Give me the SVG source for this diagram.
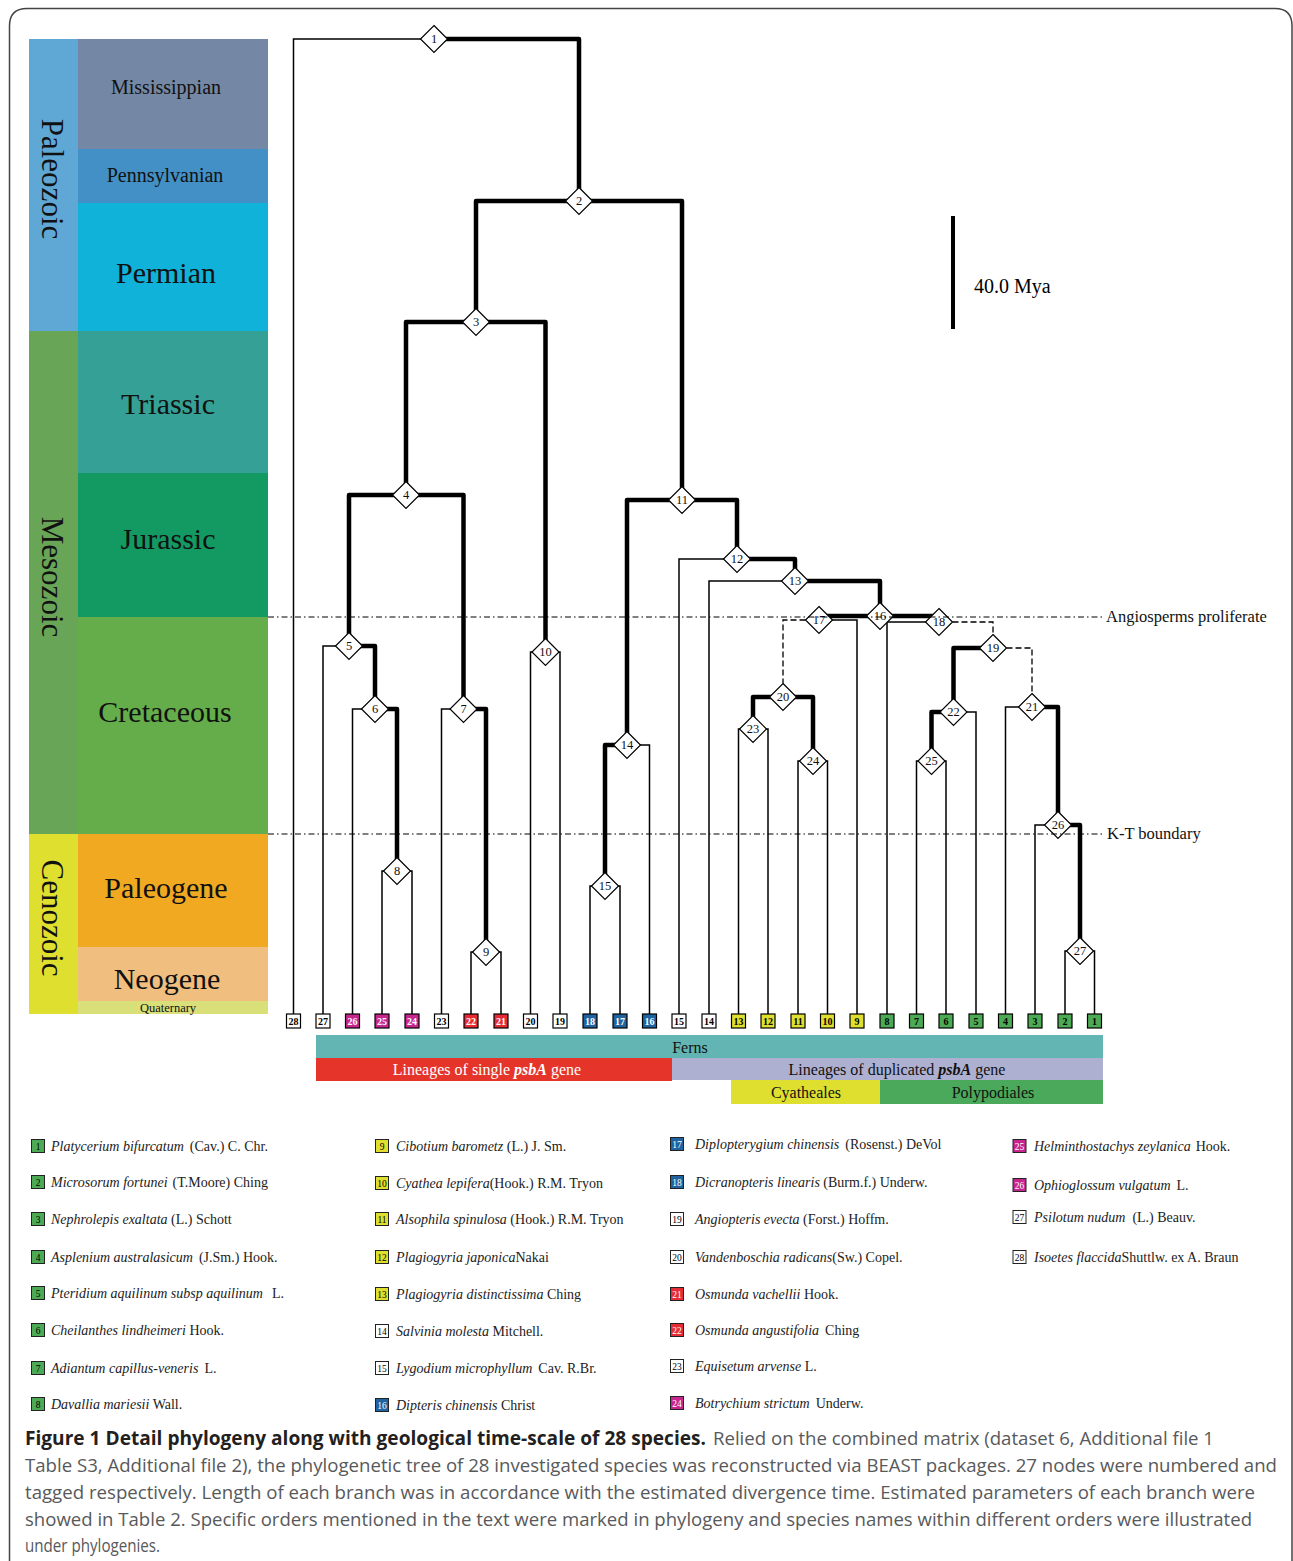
<svg xmlns="http://www.w3.org/2000/svg" xmlns:xlink="http://www.w3.org/1999/xlink" width="1293" height="1561" viewBox="0 0 1293 1561">
<style>
.sf{font-family:"Liberation Serif","Times New Roman",serif}
.thk{fill:none;stroke:#000;stroke-width:4.5;stroke-linejoin:round}
.thn{fill:none;stroke:#000;stroke-width:1.5}
.dsh{fill:none;stroke:#000;stroke-width:1.3;stroke-dasharray:6 3}
.ref{fill:none;stroke:#000;stroke-width:1;stroke-dasharray:6 3 1.5 3}
.dia{fill:#fff;stroke:#000;stroke-width:1.2}
.nt{font-family:"Liberation Serif",serif;font-size:12.5px;text-anchor:middle;fill:#111}
.lb{stroke:#000;stroke-width:1.2}
.lt{font-family:"Liberation Serif",serif;font-size:10px;font-weight:bold;text-anchor:middle}
.per{font-family:"Liberation Serif",serif;font-size:30px;text-anchor:middle;fill:#111}
.era{font-family:"Liberation Serif",serif;font-size:31px;text-anchor:middle;fill:#111}
.bar{font-family:"Liberation Serif",serif;font-size:16px;text-anchor:middle}
.lg{font-family:"Liberation Serif",serif;font-size:14px;fill:#222}
.lgn{font-family:"Liberation Serif",serif;font-size:9.5px;text-anchor:middle}
.gbox{stroke:#222;stroke-width:1}
.cap{font-family:"Liberation Sans Narrow","Open Sans","Liberation Sans",sans-serif;font-size:18px;fill:#58595b}
.capb{font-family:"Liberation Sans Narrow","Open Sans","Liberation Sans",sans-serif;font-size:19px;font-weight:bold;fill:#231f20}
.w{fill:#fff}.g{fill:#4caa55}.y{fill:#dfdf2f}.b{fill:#1f64a0}.r{fill:#e62b34}.m{fill:#c8268f}
</style>
<defs>
<path id="dm" class="dia" d="M0,-13.5 L13.5,0 L0,13.5 L-13.5,0Z"/>
</defs>
<rect width="1293" height="1561" fill="#fff"/>
<path d="M9.5,1561 V26 Q9.5,8.5 27,8.5 H1275 Q1292,8.5 1292,26 V1561" fill="none" stroke="#444" stroke-width="1.5"/>

<g id="timescale">
<rect x="29" y="39" width="49" height="292" fill="#5fa8d6"/>
<rect x="29" y="331" width="49" height="503" fill="#68a556"/>
<rect x="29" y="834" width="49" height="180" fill="#dfdf2f"/>
<rect x="78" y="39" width="190" height="110" fill="#7488a6"/>
<rect x="78" y="149" width="190" height="54" fill="#4290c5"/>
<rect x="78" y="203" width="190" height="128" fill="#10b2d9"/>
<rect x="78" y="331" width="190" height="142" fill="#35a096"/>
<rect x="78" y="473" width="190" height="144" fill="#139a62"/>
<rect x="78" y="617" width="190" height="217" fill="#64ad4a"/>
<rect x="78" y="834" width="190" height="113" fill="#f2a922"/>
<rect x="78" y="947" width="190" height="54" fill="#f0bf80"/>
<rect x="78" y="1001" width="190" height="13" fill="#d9e07a"/>
<text class="era" transform="translate(42,179) rotate(90)">Paleozoic</text>
<text class="era" transform="translate(42,577) rotate(90)">Mesozoic</text>
<text class="era" transform="translate(42,918) rotate(90)">Cenozoic</text>
<text class="sf" x="166" y="94" font-size="20" text-anchor="middle" fill="#111">Mississippian</text>
<text class="sf" x="165" y="182" font-size="20" text-anchor="middle" fill="#111">Pennsylvanian</text>
<text class="per" x="166" y="283">Permian</text>
<text class="per" x="168" y="414">Triassic</text>
<text class="per" x="168" y="549">Jurassic</text>
<text class="per" x="165" y="722">Cretaceous</text>
<text class="per" x="166" y="898">Paleogene</text>
<text class="per" x="167" y="989">Neogene</text>
<text class="sf" x="168" y="1012" font-size="12.5" text-anchor="middle" fill="#111">Quaternary</text>
</g>

<g id="scale-bar">
<line x1="953" y1="216" x2="953" y2="329" stroke="#000" stroke-width="4"/>
<text class="sf" x="974" y="293" font-size="20">40.0 Mya</text>
</g>

<g id="connectors">
<path class="thn" d="M434,39 H293.5 V1014"/>
<path class="thn" d="M349,646 H323 V1014"/>
<path class="thn" d="M375,709 H352.5 V1014"/>
<path class="thn" d="M397,871 H382 V1014 M397,871 H412 V1014"/>
<path class="thn" d="M463.5,709 H441.5 V1014"/>
<path class="thn" d="M486,952 H471 V1014 M486,952 H501 V1014"/>
<path class="thn" d="M545.5,652 H530.5 V1014 M545.5,652 H560 V1014"/>
<path class="thn" d="M627,745 H649.5 V1014"/>
<path class="thn" d="M605,886 H590 V1014 M605,886 H620 V1014"/>
<path class="thn" d="M737,559 H679 V1014"/>
<path class="thn" d="M795,581 H709 V1014"/>
<path class="thn" d="M753,729 H738.5 V1014 M753,729 H768 V1014"/>
<path class="thn" d="M813,761 H798 V1014 M813,761 H827.5 V1014"/>
<path class="thn" d="M819,620 H857 V1014"/>
<path class="thn" d="M939,622 H887 V1014"/>
<path class="thn" d="M931.5,761 H916.5 V1014 M931.5,761 H946 V1014"/>
<path class="thn" d="M953.5,712 H976 V1014"/>
<path class="thn" d="M1032,707 H1005.5 V1014"/>
<path class="thn" d="M1058,825 H1035 V1014"/>
<path class="thn" d="M1080,951 H1065 V1014 M1080,951 H1094.5 V1014"/>
<path class="thk" d="M434,39 H579 V201"/>
<path class="thk" d="M579,201 H476 V322"/>
<path class="thk" d="M579,201 H682 V500"/>
<path class="thk" d="M476,322 H406 V495"/>
<path class="thk" d="M476,322 H545.5 V652"/>
<path class="thk" d="M406,495 H349 V646"/>
<path class="thk" d="M406,495 H463.5 V709"/>
<path class="thk" d="M349,646 H375 V709"/>
<path class="thk" d="M375,709 H397 V871"/>
<path class="thk" d="M463.5,709 H486 V952"/>
<path class="thk" d="M682,500 H627 V745"/>
<path class="thk" d="M682,500 H737 V559"/>
<path class="thk" d="M627,745 H605 V886"/>
<path class="thk" d="M737,559 H795 V581"/>
<path class="thk" d="M795,581 H880 V616"/>
<path class="thk" d="M880,616 H819 V620"/>
<path class="thk" d="M880,616 H939 V622"/>
<path class="thk" d="M783,697 H753 V729"/>
<path class="thk" d="M783,697 H813 V761"/>
<path class="thk" d="M993,648 H953.5 V712"/>
<path class="thk" d="M953.5,712 H931.5 V761"/>
<path class="thk" d="M1032,707 H1058 V825"/>
<path class="thk" d="M1058,825 H1080 V951"/>
<path class="dsh" d="M805.5,620 H783 V683.5"/>
<path class="dsh" d="M952.5,622 H993 V634.5"/>
<path class="dsh" d="M1006.5,648 H1032 V693.5"/>
</g>

<g id="nodes">
<g id="node-1"><use xlink:href="#dm" x="434" y="39"/><text class="nt" x="434" y="43">1</text></g>
<g id="node-2"><use xlink:href="#dm" x="579" y="201"/><text class="nt" x="579" y="205">2</text></g>
<g id="node-3"><use xlink:href="#dm" x="476" y="322"/><text class="nt" x="476" y="326">3</text></g>
<g id="node-4"><use xlink:href="#dm" x="406" y="495"/><text class="nt" x="406" y="499">4</text></g>
<g id="node-5"><use xlink:href="#dm" x="349" y="646"/><text class="nt" x="349" y="650">5</text></g>
<g id="node-6"><use xlink:href="#dm" x="375" y="709"/><text class="nt" x="375" y="713">6</text></g>
<g id="node-7"><use xlink:href="#dm" x="463.5" y="709"/><text class="nt" x="463.5" y="713">7</text></g>
<g id="node-8"><use xlink:href="#dm" x="397" y="871"/><text class="nt" x="397" y="875">8</text></g>
<g id="node-9"><use xlink:href="#dm" x="486" y="952"/><text class="nt" x="486" y="956">9</text></g>
<g id="node-10"><use xlink:href="#dm" x="545.5" y="652"/><text class="nt" x="545.5" y="656">10</text></g>
<g id="node-11"><use xlink:href="#dm" x="682" y="500"/><text class="nt" x="682" y="504">11</text></g>
<g id="node-12"><use xlink:href="#dm" x="737" y="559"/><text class="nt" x="737" y="563">12</text></g>
<g id="node-13"><use xlink:href="#dm" x="795" y="581"/><text class="nt" x="795" y="585">13</text></g>
<g id="node-14"><use xlink:href="#dm" x="627" y="745"/><text class="nt" x="627" y="749">14</text></g>
<g id="node-15"><use xlink:href="#dm" x="605" y="886"/><text class="nt" x="605" y="890">15</text></g>
<g id="node-16"><use xlink:href="#dm" x="880" y="616"/><text class="nt" x="880" y="620">16</text></g>
<g id="node-17"><use xlink:href="#dm" x="819" y="620"/><text class="nt" x="819" y="624">17</text></g>
<g id="node-18"><use xlink:href="#dm" x="939" y="622"/><text class="nt" x="939" y="626">18</text></g>
<g id="node-19"><use xlink:href="#dm" x="993" y="648"/><text class="nt" x="993" y="652">19</text></g>
<g id="node-20"><use xlink:href="#dm" x="783" y="697"/><text class="nt" x="783" y="701">20</text></g>
<g id="node-21"><use xlink:href="#dm" x="1032" y="707"/><text class="nt" x="1032" y="711">21</text></g>
<g id="node-22"><use xlink:href="#dm" x="953.5" y="712"/><text class="nt" x="953.5" y="716">22</text></g>
<g id="node-23"><use xlink:href="#dm" x="753" y="729"/><text class="nt" x="753" y="733">23</text></g>
<g id="node-24"><use xlink:href="#dm" x="813" y="761"/><text class="nt" x="813" y="765">24</text></g>
<g id="node-25"><use xlink:href="#dm" x="931.5" y="761"/><text class="nt" x="931.5" y="765">25</text></g>
<g id="node-26"><use xlink:href="#dm" x="1058" y="825"/><text class="nt" x="1058" y="829">26</text></g>
<g id="node-27"><use xlink:href="#dm" x="1080" y="951"/><text class="nt" x="1080" y="955">27</text></g>
</g>

<g id="reference-lines">
<line class="ref" x1="268" y1="617" x2="1104" y2="617"/>
<line class="ref" x1="268" y1="834" x2="1104" y2="834"/>
<text class="sf" x="1106" y="622" font-size="16.5" fill="#111">Angiosperms proliferate</text>
<text class="sf" x="1107" y="839" font-size="16.5" fill="#111">K-T boundary</text>
</g>

<g id="leaves">
<g id="leaf-28"><rect class="lb w" x="286.5" y="1014" width="14" height="14"/><text class="lt" x="293.5" y="1025">28</text></g>
<g id="leaf-27"><rect class="lb w" x="316" y="1014" width="14" height="14"/><text class="lt" x="323" y="1025">27</text></g>
<g id="leaf-26"><rect class="lb m" x="345.5" y="1014" width="14" height="14"/><text class="lt" x="352.5" y="1025" fill="#fff">26</text></g>
<g id="leaf-25"><rect class="lb m" x="375" y="1014" width="14" height="14"/><text class="lt" x="382" y="1025" fill="#fff">25</text></g>
<g id="leaf-24"><rect class="lb m" x="405" y="1014" width="14" height="14"/><text class="lt" x="412" y="1025" fill="#fff">24</text></g>
<g id="leaf-23"><rect class="lb w" x="434.5" y="1014" width="14" height="14"/><text class="lt" x="441.5" y="1025">23</text></g>
<g id="leaf-22"><rect class="lb r" x="464" y="1014" width="14" height="14"/><text class="lt" x="471" y="1025" fill="#fff">22</text></g>
<g id="leaf-21"><rect class="lb r" x="494" y="1014" width="14" height="14"/><text class="lt" x="501" y="1025" fill="#fff">21</text></g>
<g id="leaf-20"><rect class="lb w" x="523.5" y="1014" width="14" height="14"/><text class="lt" x="530.5" y="1025">20</text></g>
<g id="leaf-19"><rect class="lb w" x="553" y="1014" width="14" height="14"/><text class="lt" x="560" y="1025">19</text></g>
<g id="leaf-18"><rect class="lb b" x="583" y="1014" width="14" height="14"/><text class="lt" x="590" y="1025" fill="#fff">18</text></g>
<g id="leaf-17"><rect class="lb b" x="613" y="1014" width="14" height="14"/><text class="lt" x="620" y="1025" fill="#fff">17</text></g>
<g id="leaf-16"><rect class="lb b" x="642.5" y="1014" width="14" height="14"/><text class="lt" x="649.5" y="1025" fill="#fff">16</text></g>
<g id="leaf-15"><rect class="lb w" x="672" y="1014" width="14" height="14"/><text class="lt" x="679" y="1025">15</text></g>
<g id="leaf-14"><rect class="lb w" x="702" y="1014" width="14" height="14"/><text class="lt" x="709" y="1025">14</text></g>
<g id="leaf-13"><rect class="lb y" x="731.5" y="1014" width="14" height="14"/><text class="lt" x="738.5" y="1025">13</text></g>
<g id="leaf-12"><rect class="lb y" x="761" y="1014" width="14" height="14"/><text class="lt" x="768" y="1025">12</text></g>
<g id="leaf-11"><rect class="lb y" x="791" y="1014" width="14" height="14"/><text class="lt" x="798" y="1025">11</text></g>
<g id="leaf-10"><rect class="lb y" x="820.5" y="1014" width="14" height="14"/><text class="lt" x="827.5" y="1025">10</text></g>
<g id="leaf-9"><rect class="lb y" x="850" y="1014" width="14" height="14"/><text class="lt" x="857" y="1025">9</text></g>
<g id="leaf-8"><rect class="lb g" x="880" y="1014" width="14" height="14"/><text class="lt" x="887" y="1025">8</text></g>
<g id="leaf-7"><rect class="lb g" x="909.5" y="1014" width="14" height="14"/><text class="lt" x="916.5" y="1025">7</text></g>
<g id="leaf-6"><rect class="lb g" x="939" y="1014" width="14" height="14"/><text class="lt" x="946" y="1025">6</text></g>
<g id="leaf-5"><rect class="lb g" x="969" y="1014" width="14" height="14"/><text class="lt" x="976" y="1025">5</text></g>
<g id="leaf-4"><rect class="lb g" x="998.5" y="1014" width="14" height="14"/><text class="lt" x="1005.5" y="1025">4</text></g>
<g id="leaf-3"><rect class="lb g" x="1028" y="1014" width="14" height="14"/><text class="lt" x="1035" y="1025">3</text></g>
<g id="leaf-2"><rect class="lb g" x="1058" y="1014" width="14" height="14"/><text class="lt" x="1065" y="1025">2</text></g>
<g id="leaf-1"><rect class="lb g" x="1087.5" y="1014" width="14" height="14"/><text class="lt" x="1094.5" y="1025">1</text></g>
</g>

<g id="group-bars">
<rect x="316" y="1035" width="787" height="23" fill="#62b5b3"/>
<text class="bar" x="690" y="1053" fill="#111">Ferns</text>
<rect x="316" y="1058" width="356" height="23" fill="#e5352a"/>
<text class="bar" x="487" y="1075" fill="#fff">Lineages of single <tspan font-weight="bold" font-style="italic">psbA</tspan> gene</text>
<rect x="672" y="1058" width="431" height="22" fill="#adb0d0"/>
<text class="bar" x="897" y="1075" fill="#111">Lineages of duplicated <tspan font-weight="bold" font-style="italic">psbA</tspan> gene</text>
<rect x="731" y="1080" width="149" height="24" fill="#dfdf2f"/>
<text class="bar" x="806" y="1098" fill="#111">Cyatheales</text>
<rect x="880" y="1080" width="223" height="24" fill="#4aa95a"/>
<text class="bar" x="993" y="1098" fill="#111">Polypodiales</text>
</g>

<g id="legend">
<g id="lg-1"><rect class="gbox g" x="31.5" y="1139.5" width="13" height="13"/><text class="lgn" x="38" y="1149.5">1</text><text class="lg" x="51" y="1151"><tspan font-style="italic">Platycerium bifurcatum</tspan><tspan dx="6">(Cav.) C. Chr.</tspan></text></g>
<g id="lg-2"><rect class="gbox g" x="31.5" y="1175.5" width="13" height="13"/><text class="lgn" x="38" y="1185.5">2</text><text class="lg" x="51" y="1187"><tspan font-style="italic">Microsorum fortunei</tspan><tspan dx="5">(T.Moore) Ching</tspan></text></g>
<g id="lg-3"><rect class="gbox g" x="31.5" y="1212.5" width="13" height="13"/><text class="lgn" x="38" y="1222.5">3</text><text class="lg" x="51" y="1224"><tspan font-style="italic">Nephrolepis exaltata</tspan> (L.) Schott</text></g>
<g id="lg-4"><rect class="gbox g" x="31.5" y="1250.5" width="13" height="13"/><text class="lgn" x="38" y="1260.5">4</text><text class="lg" x="51" y="1262"><tspan font-style="italic">Asplenium australasicum</tspan><tspan dx="6">(J.Sm.) Hook.</tspan></text></g>
<g id="lg-5"><rect class="gbox g" x="31.5" y="1286.5" width="13" height="13"/><text class="lgn" x="38" y="1296.5">5</text><text class="lg" x="51" y="1298"><tspan font-style="italic">Pteridium aquilinum subsp aquilinum</tspan><tspan dx="9">L.</tspan></text></g>
<g id="lg-6"><rect class="gbox g" x="31.5" y="1323.5" width="13" height="13"/><text class="lgn" x="38" y="1333.5">6</text><text class="lg" x="51" y="1335"><tspan font-style="italic">Cheilanthes lindheimeri</tspan> Hook.</text></g>
<g id="lg-7"><rect class="gbox g" x="31.5" y="1361.5" width="13" height="13"/><text class="lgn" x="38" y="1371.5">7</text><text class="lg" x="51" y="1373"><tspan font-style="italic">Adiantum capillus-veneris</tspan><tspan dx="6">L.</tspan></text></g>
<g id="lg-8"><rect class="gbox g" x="31.5" y="1397.5" width="13" height="13"/><text class="lgn" x="38" y="1407.5">8</text><text class="lg" x="51" y="1409"><tspan font-style="italic">Davallia mariesii</tspan> Wall.</text></g>

<g id="lg-9"><rect class="gbox y" x="375.5" y="1139.5" width="13" height="13"/><text class="lgn" x="382" y="1149.5">9</text><text class="lg" x="396" y="1151"><tspan font-style="italic">Cibotium barometz</tspan> (L.) J. Sm.</text></g>
<g id="lg-10"><rect class="gbox y" x="375.5" y="1176.5" width="13" height="13"/><text class="lgn" x="382" y="1186.5">10</text><text class="lg" x="396" y="1188"><tspan font-style="italic">Cyathea lepifera</tspan>(Hook.) R.M. Tryon</text></g>
<g id="lg-11"><rect class="gbox y" x="375.5" y="1212.5" width="13" height="13"/><text class="lgn" x="382" y="1222.5">11</text><text class="lg" x="396" y="1224"><tspan font-style="italic">Alsophila spinulosa</tspan> (Hook.) R.M. Tryon</text></g>
<g id="lg-12"><rect class="gbox y" x="375.5" y="1250.5" width="13" height="13"/><text class="lgn" x="382" y="1260.5">12</text><text class="lg" x="396" y="1262"><tspan font-style="italic">Plagiogyria japonica</tspan>Nakai</text></g>
<g id="lg-13"><rect class="gbox y" x="375.5" y="1287.5" width="13" height="13"/><text class="lgn" x="382" y="1297.5">13</text><text class="lg" x="396" y="1299"><tspan font-style="italic">Plagiogyria distinctissima</tspan> Ching</text></g>
<g id="lg-14"><rect class="gbox w" x="375.5" y="1324.5" width="13" height="13"/><text class="lgn" x="382" y="1334.5">14</text><text class="lg" x="396" y="1336"><tspan font-style="italic">Salvinia molesta</tspan> Mitchell.</text></g>
<g id="lg-15"><rect class="gbox w" x="375.5" y="1361.5" width="13" height="13"/><text class="lgn" x="382" y="1371.5">15</text><text class="lg" x="396" y="1373"><tspan font-style="italic">Lygodium microphyllum</tspan><tspan dx="6">Cav. R.Br.</tspan></text></g>
<g id="lg-16"><rect class="gbox b" x="375.5" y="1398.5" width="13" height="13"/><text class="lgn" x="382" y="1408.5" fill="#fff">16</text><text class="lg" x="396" y="1410"><tspan font-style="italic">Dipteris chinensis</tspan> Christ</text></g>

<g id="lg-17"><rect class="gbox b" x="670.5" y="1137.5" width="13" height="13"/><text class="lgn" x="677" y="1147.5" fill="#fff">17</text><text class="lg" x="695" y="1149"><tspan font-style="italic">Diplopterygium chinensis</tspan><tspan dx="6">(Rosenst.) DeVol</tspan></text></g>
<g id="lg-18"><rect class="gbox b" x="670.5" y="1175.5" width="13" height="13"/><text class="lgn" x="677" y="1185.5" fill="#fff">18</text><text class="lg" x="695" y="1187"><tspan font-style="italic">Dicranopteris linearis</tspan> (Burm.f.) Underw.</text></g>
<g id="lg-19"><rect class="gbox w" x="670.5" y="1212.5" width="13" height="13"/><text class="lgn" x="677" y="1222.5">19</text><text class="lg" x="695" y="1224"><tspan font-style="italic">Angiopteris evecta</tspan> (Forst.) Hoffm.</text></g>
<g id="lg-20"><rect class="gbox w" x="670.5" y="1250.5" width="13" height="13"/><text class="lgn" x="677" y="1260.5">20</text><text class="lg" x="695" y="1262"><tspan font-style="italic">Vandenboschia radicans</tspan>(Sw.) Copel.</text></g>
<g id="lg-21"><rect class="gbox r" x="670.5" y="1287.5" width="13" height="13"/><text class="lgn" x="677" y="1297.5" fill="#fff">21</text><text class="lg" x="695" y="1299"><tspan font-style="italic">Osmunda vachellii</tspan> Hook.</text></g>
<g id="lg-22"><rect class="gbox r" x="670.5" y="1323.5" width="13" height="13"/><text class="lgn" x="677" y="1333.5" fill="#fff">22</text><text class="lg" x="695" y="1335"><tspan font-style="italic">Osmunda angustifolia</tspan><tspan dx="6">Ching</tspan></text></g>
<g id="lg-23"><rect class="gbox w" x="670.5" y="1359.5" width="13" height="13"/><text class="lgn" x="677" y="1369.5">23</text><text class="lg" x="695" y="1371"><tspan font-style="italic">Equisetum arvense</tspan> L.</text></g>
<g id="lg-24"><rect class="gbox m" x="670.5" y="1396.5" width="13" height="13"/><text class="lgn" x="677" y="1406.5" fill="#fff">24</text><text class="lg" x="695" y="1408"><tspan font-style="italic">Botrychium strictum</tspan><tspan dx="6">Underw.</tspan></text></g>

<g id="lg-25"><rect class="gbox m" x="1013" y="1139.5" width="13" height="13"/><text class="lgn" x="1019.5" y="1149.5" fill="#fff">25</text><text class="lg" x="1034" y="1151"><tspan font-style="italic">Helminthostachys zeylanica</tspan><tspan dx="5">Hook.</tspan></text></g>
<g id="lg-26"><rect class="gbox m" x="1013" y="1178.5" width="13" height="13"/><text class="lgn" x="1019.5" y="1188.5" fill="#fff">26</text><text class="lg" x="1034" y="1190"><tspan font-style="italic">Ophioglossum vulgatum</tspan><tspan dx="6">L.</tspan></text></g>
<g id="lg-27"><rect class="gbox w" x="1013" y="1210.5" width="13" height="13"/><text class="lgn" x="1019.5" y="1220.5">27</text><text class="lg" x="1034" y="1222"><tspan font-style="italic">Psilotum nudum</tspan><tspan dx="7">(L.) Beauv.</tspan></text></g>
<g id="lg-28"><rect class="gbox w" x="1013" y="1250.5" width="13" height="13"/><text class="lgn" x="1019.5" y="1260.5">28</text><text class="lg" x="1034" y="1262"><tspan font-style="italic">Isoetes flaccida</tspan>Shuttlw. ex A. Braun</text></g>
</g>

<g id="caption">
<text class="capb" x="25" y="1445" textLength="681" lengthAdjust="spacingAndGlyphs">Figure 1 Detail phylogeny along with geological time-scale of 28 species.</text>
<text class="cap" x="713" y="1445" textLength="501" lengthAdjust="spacingAndGlyphs">Relied on the combined matrix (dataset 6, Additional file 1</text>
<text class="cap" x="25" y="1472" textLength="1252" lengthAdjust="spacingAndGlyphs">Table S3, Additional file 2), the phylogenetic tree of 28 investigated species was reconstructed via BEAST packages. 27 nodes were numbered and</text>
<text class="cap" x="25" y="1499" textLength="1230" lengthAdjust="spacingAndGlyphs">tagged respectively. Length of each branch was in accordance with the estimated divergence time. Estimated parameters of each branch were</text>
<text class="cap" x="25" y="1526" textLength="1227" lengthAdjust="spacingAndGlyphs">showed in Table 2. Specific orders mentioned in the text were marked in phylogeny and species names within different orders were illustrated</text>
<text class="cap" x="25" y="1552" textLength="135" lengthAdjust="spacingAndGlyphs">under phylogenies.</text>
</g>
</svg>
